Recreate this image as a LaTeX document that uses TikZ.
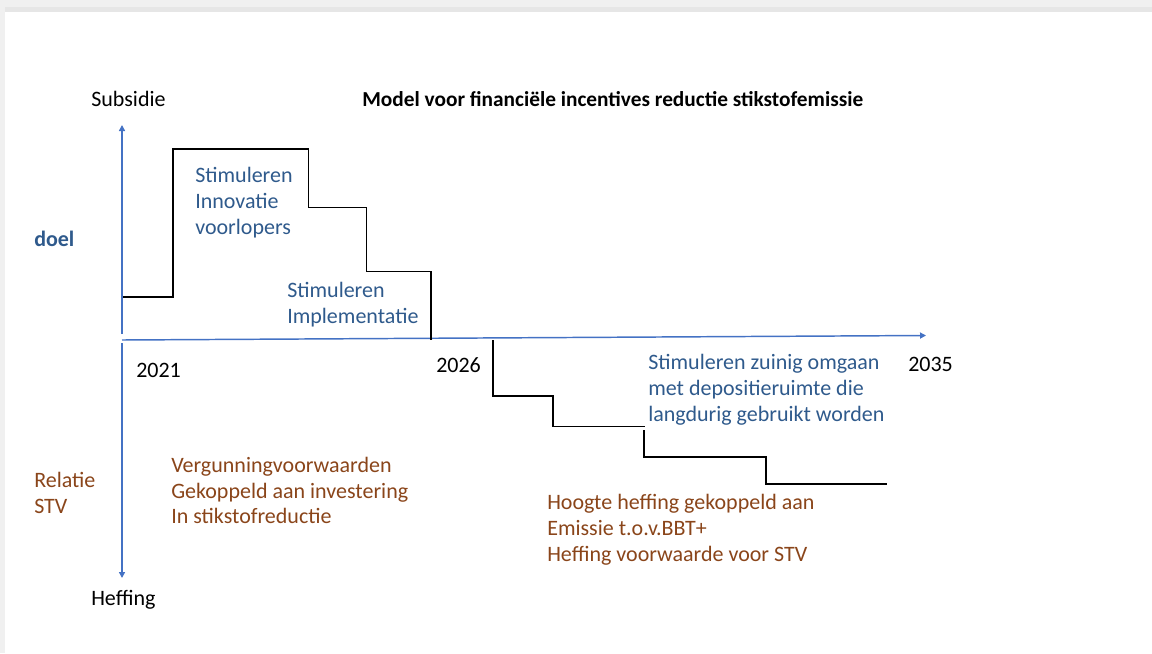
\documentclass[tikz,border=0pt]{standalone}
\usepackage{fontspec}
\setmainfont{Carlito}
\usetikzlibrary{arrows.meta}
\definecolor{axisblue}{HTML}{4472C4}
\definecolor{txtblue}{HTML}{2F5A8C}
\definecolor{txtbrown}{HTML}{8A451A}
\definecolor{framegray}{HTML}{F0F0F0}
\definecolor{framegray2}{HTML}{E6E6E6}
\tikzset{
  lbl/.style={anchor=base west, inner sep=0pt, font=\fontsize{16.5}{19.5}\selectfont},
  bluelbl/.style={lbl, text=txtblue},
  brownlbl/.style={lbl, text=txtbrown},
  axisline/.style={draw=axisblue, line width=1.1pt, -{Triangle[length=4.5pt,width=4.5pt]}},
  stepline/.style={draw=black, line width=1.4pt},
}
\begin{document}
\begin{tikzpicture}[x=0.75pt,y=-0.75pt]
\useasboundingbox (0,0) rectangle (1152,653);
% frame
\fill[framegray] (0,0) rectangle (1152,12);
\fill[framegray2] (0,7) rectangle (1152,12);
\fill[framegray] (0,0) rectangle (5,653);
% axes
\coordinate (o) at (122,340);
\coordinate (xend) at (926,335.5);
\coordinate (ytopstart) at (122,334);
\coordinate (ytop) at (122,125);
\coordinate (ybotstart) at (122,343);
\coordinate (ybot) at (122,578);
\draw[axisline] (o) -- (xend);
\draw[axisline] (ytopstart) -- (ytop);
\draw[axisline] (ybotstart) -- (ybot);
% upper steps
\draw[stepline] (123,297) -- (173,297) -- (173,149) -- (308.5,149) -- (308.5,207.5) -- (366.5,207.5) -- (366.5,271.5) -- (431,271.5) -- (431,340);
% lower steps
\draw[stepline] (493,340) -- (493,396) -- (553,396) -- (553,426.5) -- (645,426.5);
\draw[stepline] (644,430) -- (644,457) -- (766,457) -- (766,484) -- (887,484);
% texts
\node[lbl] (subsidie) at (91,106) {Subsidie};
\node[lbl, font=\fontsize{16}{19}\selectfont\bfseries] (title) at (362,106) {Model voor financiële incentives reductie stikstofemissie};
\node[bluelbl, font=\fontsize{16.5}{19.5}\selectfont\bfseries] (doel) at (34,246) {doel};
\node[bluelbl] (innov1) at (195,182) {Stimuleren};
\node[bluelbl] (innov2) at (195,208) {Innovatie};
\node[bluelbl] (innov3) at (195,234) {voorlopers};
\node[bluelbl] (impl1) at (287,297.5) {Stimuleren};
\node[bluelbl] (impl2) at (287,323.5) {Implementatie};
\node[lbl] (y2021) at (136,377) {2021};
\node[lbl] (y2026) at (436,372) {2026};
\node[lbl] (y2035) at (908,371) {2035};
\node[bluelbl] (zuinig1) at (648,369.5) {Stimuleren zuinig omgaan};
\node[bluelbl] (zuinig2) at (648,395) {met depositieruimte die};
\node[bluelbl] (zuinig3) at (648,421) {langdurig gebruikt worden};
\node[brownlbl] (relatie1) at (34,487) {Relatie};
\node[brownlbl] (relatie2) at (34,513) {STV};
\node[brownlbl] (verg1) at (171,472) {Vergunningvoorwaarden};
\node[brownlbl] (verg2) at (171,498) {Gekoppeld aan investering};
\node[brownlbl] (verg3) at (171,523.5) {In stikstofreductie};
\node[brownlbl] (hoogte1) at (547,509.5) {Hoogte heffing gekoppeld aan};
\node[brownlbl] (hoogte2) at (547,535) {Emissie t.o.v.BBT+};
\node[brownlbl] (hoogte3) at (547,561) {Heffing voorwaarde voor STV};
\node[lbl] (heffing) at (91,605) {Heffing};
\end{tikzpicture}
\end{document}
